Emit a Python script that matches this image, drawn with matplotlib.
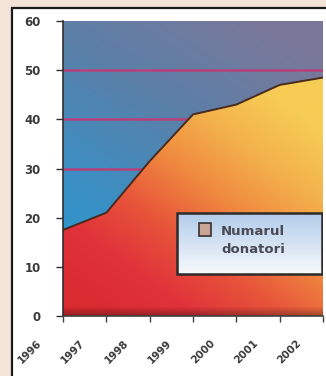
import numpy as np
import matplotlib
matplotlib.use("Agg")
import matplotlib.pyplot as plt
from matplotlib.patches import Rectangle
from matplotlib.transforms import ScaledTranslation
from matplotlib.colors import LinearSegmentedColormap

# data
years = [1996, 1997, 1998, 1999, 2000, 2001, 2002]
donors = [17.5, 21.0, 31.5, 41.0, 43.0, 47.0, 48.5]
year_labels = ["1996", "1997", "1998", "1999", "2000", "2001", "2002"]
y_ticks = [0, 10, 20, 30, 40, 50, 60]
legend_label = "Numarul\ndonatori"

fig = plt.figure(figsize=(3.26, 3.76), dpi=100)
fig.patch.set_facecolor("#f4e3d9")

# white framed panel
fig.add_artist(Rectangle((12 / 326, -0.05), 1.2, (376 - 8) / 376 + 0.05,
                         transform=fig.transFigure, facecolor="white",
                         edgecolor="#1a1a1a", lw=1.6, zorder=0))

ax = fig.add_axes([63 / 326, 60 / 376, 260 / 326, 295 / 376])
ax.set_xlim(years[0], years[-1])
ax.set_ylim(0, 60)

ny, nx = 200, 200
yy, xx = np.mgrid[0:1:ny * 1j, 0:1:nx * 1j]
ext = [years[0], years[-1], 0, 60]

# background gradient (blue bottom-left -> slate violet top-right)
bg_cmap = LinearSegmentedColormap.from_list(
    "bg", ["#229fd8", "#3a8fc4", "#5b80a8", "#7a789a"])
bg = bg_cmap(np.clip(0.7 * yy + 0.4 * xx, 0, 1))
ax.imshow(bg, extent=ext, origin="lower", aspect="auto", zorder=0,
          interpolation="bilinear")

# grid lines
for v in [30, 40, 50]:
    ax.axhline(v, color="#b8407a", lw=1.8, zorder=1)

# area gradient (red -> orange -> yellow)
area_cmap = LinearSegmentedColormap.from_list(
    "area", ["#d92b30", "#e0323a", "#e8563a", "#f08a40", "#f4b24c", "#f7cc55"])
t = np.clip(0.55 * xx + 0.85 * yy - 0.08, 0, 1)
area = area_cmap(t)
# darker strip near the base
shade = np.clip(yy / 0.03, 0, 1)[..., None]
area[..., :3] = area[..., :3] * (0.7 + 0.3 * shade)
img = ax.imshow(area, extent=ext, origin="lower", aspect="auto", zorder=2,
                interpolation="bilinear")
fill = ax.fill_between(years, 0, donors, facecolor="none", edgecolor="none")
img.set_clip_path(fill.get_paths()[0], transform=ax.transData)
ax.plot(years, donors, color="#4a2a1e", lw=1.4, zorder=3,
        solid_joinstyle="round")

# axes styling
for s in ["top", "right"]:
    ax.spines[s].set_visible(False)
ax.spines["left"].set_color("#303030")
ax.spines["bottom"].set_color("#404040")
ax.spines["left"].set_linewidth(1.2)
ax.spines["bottom"].set_linewidth(1.2)
ax.spines["left"].set_zorder(4)
ax.spines["bottom"].set_zorder(4)

ax.set_yticks(y_ticks)
ax.set_yticklabels([str(v) for v in y_ticks])
ax.tick_params(axis="y", length=5, width=1, color="#303030", pad=11,
               labelsize=8.5, labelcolor="#3a3a3a")
ax.set_xticks(years)
ax.set_xticklabels(year_labels, rotation=45, ha="right", va="center",
                   rotation_mode="anchor")
ax.tick_params(axis="x", length=4, width=1, color="#404040",
               labelsize=7.5, labelcolor="#3a3a3a")
for lab in ax.get_yticklabels() + ax.get_xticklabels():
    lab.set_fontweight("bold")
off = ScaledTranslation(-0.23, -0.15, fig.dpi_scale_trans)
for lab in ax.get_xticklabels():
    lab.set_transform(lab.get_transform() + off)

# legend with gradient box
lx0, lx1 = (177 - 63) / 260, (322 - 63) / 260
ly0, ly1 = (316 - 274) / 295, (316 - 213) / 295
lg = np.linspace(0, 1, 100)[:, None, None] * np.ones((1, 10, 1))
c_top = np.array([0.70, 0.80, 0.92])
c_bot = np.array([0.97, 0.98, 0.99])
lg_img = c_top + (c_bot - c_top) * lg
ax.imshow(lg_img, extent=[lx0, lx1, ly0, ly1], origin="upper",
          transform=ax.transAxes, aspect="auto", zorder=5,
          interpolation="bilinear")
ax.add_patch(Rectangle((lx0, ly0), lx1 - lx0, ly1 - ly0, transform=ax.transAxes,
                       facecolor="none", edgecolor="#2e2a2a", lw=1.8, zorder=6))
ax.add_patch(Rectangle((lx0 + 0.085, ly1 - 0.079), 0.045, 0.045,
                       transform=ax.transAxes, facecolor="#c9a595",
                       edgecolor="#3a3030", lw=1.2, zorder=7))
ax.text(lx0 + 0.17, ly1 - 0.093, legend_label, transform=ax.transAxes,
        ha="left", va="center", fontsize=9.5, fontweight="bold",
        color="#4a4a55", linespacing=1.5, zorder=7)
ax.set_xlim(years[0], years[-1])
ax.set_ylim(0, 60)

fig.savefig("out.png", dpi=100)
